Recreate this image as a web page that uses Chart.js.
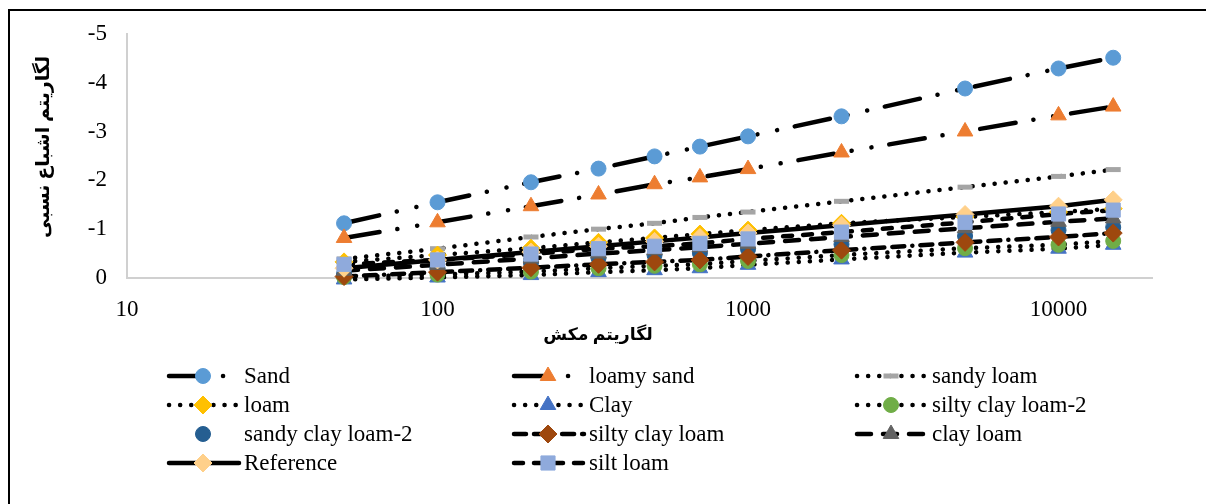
<!DOCTYPE html>
<html>
<head>
<meta charset="utf-8">
<script src="https://cdn.jsdelivr.net/npm/chart.js@4.4.1/dist/chart.umd.min.js"></script>
<style>
    html, body { margin: 0; padding: 0; background: #fff; overflow: hidden; }
    #wrap { position: relative; width: 1206px; height: 504px; overflow: hidden; }
    #wrap canvas { position: absolute; left: 0; top: 0; }
    #frame {
        position: absolute; left: 8px; top: 9px; width: 1300px; height: 600px;
        border: 2px solid #000; box-sizing: border-box; pointer-events: none;
    }
</style>
</head>
<body>
<div id="wrap">
    <canvas id="chart" width="1206" height="504"></canvas>
    <div id="frame"></div>
</div>
<script>
// --- Data ---
const suction = [50, 100, 200, 330, 500, 700, 1000, 2000, 5000, 10000, 15000];
const xTicks = [10, 100, 1000, 10000];
const yTicks = [-5, -4, -3, -2, -1, 0];

const sand           = [-1.12, -1.55, -1.96, -2.24, -2.49, -2.69, -2.90, -3.31, -3.88, -4.29, -4.51];
const loamySand      = [-0.82, -1.14, -1.47, -1.71, -1.92, -2.06, -2.23, -2.57, -3.00, -3.33, -3.51];
const sandyLoam      = [-0.39, -0.60, -0.84, -1.00, -1.12, -1.24, -1.35, -1.57, -1.86, -2.08, -2.22];
const loam           = [-0.33, -0.47, -0.61, -0.73, -0.82, -0.90, -0.98, -1.12, -1.25, -1.35, -1.42];
const clay           = [0.03, -0.01, -0.06, -0.12, -0.16, -0.20, -0.27, -0.38, -0.52, -0.60, -0.68];
const siltyClayLoam2 = [-0.02, -0.07, -0.13, -0.20, -0.25, -0.28, -0.35, -0.47, -0.61, -0.68, -0.76];
const sandyClayLoam2 = [-0.08, -0.20, -0.31, -0.41, -0.47, -0.51, -0.59, -0.69, -0.86, -0.98, -1.04];
const siltyClayLoam  = [-0.03, -0.12, -0.21, -0.28, -0.33, -0.37, -0.44, -0.57, -0.73, -0.84, -0.92];
const clayLoam       = [-0.15, -0.27, -0.40, -0.50, -0.57, -0.63, -0.70, -0.84, -1.02, -1.15, -1.22];
const reference      = [-0.20, -0.37, -0.53, -0.65, -0.75, -0.83, -0.92, -1.08, -1.30, -1.47, -1.60];
const siltLoam       = [-0.28, -0.37, -0.49, -0.60, -0.65, -0.71, -0.80, -0.94, -1.14, -1.31, -1.39];

const seriesNames = ['Sand', 'loamy sand', 'sandy loam', 'loam', 'Clay', 'silty clay loam-2',
    'sandy clay loam-2', 'silty clay loam', 'clay loam', 'Reference', 'silt loam'];
const seriesValues = [sand, loamySand, sandyLoam, loam, clay, siltyClayLoam2,
    sandyClayLoam2, siltyClayLoam, clayLoam, reference, siltLoam];

const xTitle = 'لگاریتم مکش';
const yTitle = 'لگاریتم اشباع نسبی';

// --- Styles ---
const DOTS = [0.1, 11];
const LONG_DASH_DOT_DOT = [36, 18, 0.1, 20, 0.1, 18];
const styles = [
    { color: '#5B9BD5', marker: 'circle',   r: 7.5, dash: LONG_DASH_DOT_DOT },
    { color: '#ED7D31', marker: 'triangle', r: 9,   dash: LONG_DASH_DOT_DOT },
    { color: '#A5A5A5', marker: 'line',     r: 7.5, dash: DOTS },
    { color: '#FFC000', marker: 'rectRot',  r: 9,   dash: DOTS },
    { color: '#4472C4', marker: 'triangle', r: 9,   dash: DOTS },
    { color: '#70AD47', marker: 'circle',   r: 7.5, dash: DOTS },
    { color: '#255E91', marker: 'circle',   r: 7.5, dash: null },
    { color: '#9E480E', marker: 'rectRot',  r: 9,   dash: [12, 8, 12, 8, 0.1, 8] },
    { color: '#636363', marker: 'triangle', r: 9,   dash: [14, 12] },
    { color: '#FFD08A', marker: 'rectRot',  r: 9,   dash: [] },
    { color: '#8FAADC', marker: 'rect',     r: 10,  dash: [9, 11] }
];

const SERIF = "'Liberation Serif', 'Times New Roman', serif";
const ARABIC = "'Liberation Serif', 'DejaVu Sans', sans-serif";
const LINE_W = 4.5;
const N = seriesNames.length;

function points(i) {
    return suction.map((x, j) => ({ x: x, y: seriesValues[i][j] }));
}

// lines go underneath every marker, as in the Excel original
const lineSets = [];
const markerSets = [];
seriesNames.forEach((name, i) => {
    const s = styles[i];
    if (s.dash !== null) {
        lineSets.push({
            label: name + ' line',
            data: points(i),
            showLine: true,
            borderColor: '#000',
            borderWidth: LINE_W,
            borderDash: s.dash,
            borderCapStyle: 'round',
            tension: 0,
            pointRadius: 0,
            pointHoverRadius: 0,
            clip: false,
            order: 100 + N - i
        });
    }
    markerSets.push({
        label: name,
        data: points(i),
        showLine: false,
        pointStyle: s.marker,
        pointRadius: s.r,
        pointHoverRadius: s.r,
        pointBackgroundColor: s.color,
        pointBorderColor: s.color,
        pointBorderWidth: s.marker === 'line' ? 5 : 1,
        clip: false,
        order: N - i
    });
});

// --- Marker drawing for the legend (same geometry as Chart.js) ---
function drawMarker(ctx, s, x, y) {
    const r = s.r;
    ctx.save();
    ctx.fillStyle = s.color;
    ctx.strokeStyle = s.color;
    ctx.setLineDash([]);
    ctx.lineWidth = 1;
    ctx.beginPath();
    if (s.marker === 'circle') {
        ctx.arc(x, y, r, 0, Math.PI * 2);
    } else if (s.marker === 'triangle') {
        for (let k = 0; k < 3; k++) {
            const a = k * 2 * Math.PI / 3;
            const px = x + Math.sin(a) * r, py = y - Math.cos(a) * r;
            if (k === 0) ctx.moveTo(px, py); else ctx.lineTo(px, py);
        }
        ctx.closePath();
    } else if (s.marker === 'rectRot') {
        ctx.moveTo(x - r, y); ctx.lineTo(x, y - r); ctx.lineTo(x + r, y); ctx.lineTo(x, y + r);
        ctx.closePath();
    } else if (s.marker === 'rect') {
        const h = Math.SQRT1_2 * r;
        ctx.rect(x - h, y - h, 2 * h, 2 * h);
    } else if (s.marker === 'line') {
        ctx.lineWidth = 5;
        ctx.moveTo(x - r, y); ctx.lineTo(x + r, y);
        ctx.stroke();
        ctx.restore();
        return;
    }
    ctx.fill();
    ctx.stroke();
    ctx.restore();
}

function fitFont(ctx, text, targetWidth, weight, family) {
    ctx.font = `${weight} 20px ${family}`;
    const w = ctx.measureText(text).width;
    const size = Math.max(10, Math.min(30, 20 * targetWidth / w));
    return `${weight} ${size.toFixed(1)}px ${family}`;
}

// --- Axis titles and Excel-style legend ---
const overlay = {
    id: 'overlay',
    afterDraw(chart) {
        const ctx = chart.ctx;
        ctx.save();
        ctx.fillStyle = '#000';
        ctx.textAlign = 'center';
        ctx.textBaseline = 'middle';
        ctx.font = fitFont(ctx, xTitle, 110, 'bold', ARABIC);
        ctx.fillText(xTitle, 598, 336);

        ctx.translate(44, 147);
        ctx.rotate(-Math.PI / 2);
        ctx.font = fitFont(ctx, yTitle, 182, 'bold', ARABIC);
        ctx.fillText(yTitle, 0, 0);
        ctx.restore();

        // legend: 3 columns, row-major in series order
        const colX = [167, 512, 855];
        const rowY = [376, 405, 434, 463];
        const sampleLen = 72;
        ctx.save();
        seriesNames.forEach((name, i) => {
            const s = styles[i];
            const x0 = colX[i % 3];
            const y = rowY[Math.floor(i / 3)];
            if (s.dash !== null) {
                ctx.save();
                ctx.strokeStyle = '#000';
                ctx.lineWidth = LINE_W;
                ctx.lineCap = 'round';
                ctx.setLineDash(s.dash);
                ctx.beginPath();
                ctx.moveTo(x0 + 2, y);
                ctx.lineTo(x0 + sampleLen, y);
                ctx.stroke();
                ctx.restore();
            }
            drawMarker(ctx, s, x0 + 36, y);
            ctx.fillStyle = '#000';
            ctx.textAlign = 'left';
            ctx.textBaseline = 'middle';
            ctx.font = `23px ${SERIF}`;
            ctx.fillText(name, x0 + 77, y + 1);
        });
        ctx.restore();
    }
};

// --- Chart ---
const ctx = document.getElementById('chart').getContext('2d');
new Chart(ctx, {
    type: 'scatter',
    data: { datasets: lineSets.concat(markerSets) },
    options: {
        responsive: false,
        animation: false,
        devicePixelRatio: 1,
        layout: { padding: { left: 0, right: 54, top: 33, bottom: 0 } },
        plugins: {
            legend: { display: false },
            tooltip: { enabled: false }
        },
        scales: {
            x: {
                type: 'logarithmic',
                min: 10,
                max: 20000,
                afterBuildTicks: (scale) => { scale.ticks = xTicks.map(v => ({ value: v })); },
                afterFit: (scale) => { scale.height = 504 - 278; },
                grid: { display: false, drawTicks: false },
                border: { display: true, color: '#D0D0D0', width: 2 },
                ticks: {
                    color: '#000',
                    font: { family: SERIF, size: 23 },
                    padding: 18,
                    maxRotation: 0,
                    autoSkip: false,
                    callback: (v) => String(v)
                }
            },
            y: {
                type: 'linear',
                min: -5,
                max: 0,
                reverse: true,
                afterBuildTicks: (scale) => { scale.ticks = yTicks.map(v => ({ value: v })); },
                afterFit: (scale) => { scale.width = 127; },
                grid: { display: false, drawTicks: false },
                border: { display: true, color: '#D0D0D0', width: 2 },
                ticks: {
                    color: '#000',
                    font: { family: SERIF, size: 23 },
                    padding: 20,
                    callback: (v) => String(v)
                }
            }
        }
    },
    plugins: [overlay]
});
</script>
</body>
</html>
